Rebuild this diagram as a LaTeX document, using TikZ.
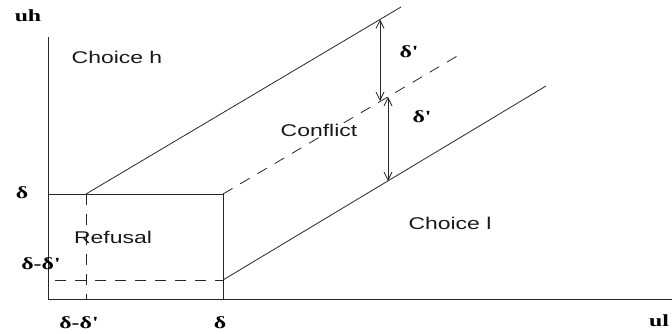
\documentclass[tikz,border=0pt]{standalone}
\usepackage{fontspec}
\setmainfont{Liberation Serif}
\newfontfamily\regionfont[FakeStretch=1.35]{Liberation Sans}
\newfontfamily\axisfont[FakeStretch=1.4]{Liberation Serif}
\usetikzlibrary{arrows.meta}

\begin{document}
\begin{tikzpicture}[
    x=1pt, y=-1pt,
    line/.style={draw=black!85, line width=0.8pt},
    dashline/.style={line, dash pattern=on 11pt off 9pt},
    region/.style={font=\regionfont\fontsize{17}{20}\selectfont, text=black!90, inner sep=1pt},
    axislabel/.style={font=\axisfont\fontsize{17}{19}\selectfont\bfseries, text=black, inner sep=0pt},
    dist/.style={line, {Straight Barb[length=8pt,width=8pt]}-{Straight Barb[length=8pt,width=8pt]}}
]
\useasboundingbox (0,0) rectangle (672,334);

% Axes
\coordinate (origin) at (48,299);
\coordinate (uhend) at (48,37);
\coordinate (ulend) at (672,299);
\draw[line] (uhend) -- (origin) -- (ulend);
\node[axislabel] (uhlabel) at (28,16) {uh};
\node[axislabel, anchor=west] (ullabel) at (649,321) {ul};

% Refusal box
\coordinate (dleft) at (48,194);
\coordinate (ddcorner) at (86,194);
\coordinate (ddfoot) at (86,299);
\coordinate (dcorner) at (223,194);
\coordinate (dfoot) at (223,299);
\coordinate (lowstart) at (55,280);
\coordinate (lowcorner) at (223,280);
\draw[line] (dleft) -- (dcorner) -- (dfoot);
\draw[dashline] (ddcorner) -- (ddfoot);
\draw[dashline] (lowstart) -- (lowcorner);

% Diagonal bands
\coordinate (topend) at (401,7);
\coordinate (midend) at (459,55);
\coordinate (lowend) at (546,86);
\draw[line] (ddcorner) -- (topend);
\draw[dashline] (dcorner) -- (midend);
\draw[line] (lowcorner) -- (lowend);

% Distances
\coordinate (arrowatop) at (380,19.5);
\coordinate (arrowabot) at (380,101);
\coordinate (arrowbtop) at (388,97);
\coordinate (arrowbbot) at (388,181);
\draw[dist] (arrowatop) -- (arrowabot);
\draw[dist] (arrowbtop) -- (arrowbbot);
\node[axislabel] (primea) at (409,52) {δ'};
\node[axislabel] (primeb) at (422,117) {δ'};

% Tick labels
\node[axislabel] (dylabel) at (22,193) {δ};
\node[axislabel] (ddylabel) at (41,264) {δ-δ'};
\node[axislabel] (ddxlabel) at (79,323) {δ-δ'};
\node[axislabel] (dxlabel) at (220,323) {δ};

% Regions
\node[region] (choiceh) at (117,57) {Choice h};
\node[region] (refusal) at (113,237) {Refusal};
\node[region, fill=white] (conflict) at (319,130) {Conflict};
\node[region] (choicel) at (450,223) {Choice l};
\end{tikzpicture}
\end{document}
